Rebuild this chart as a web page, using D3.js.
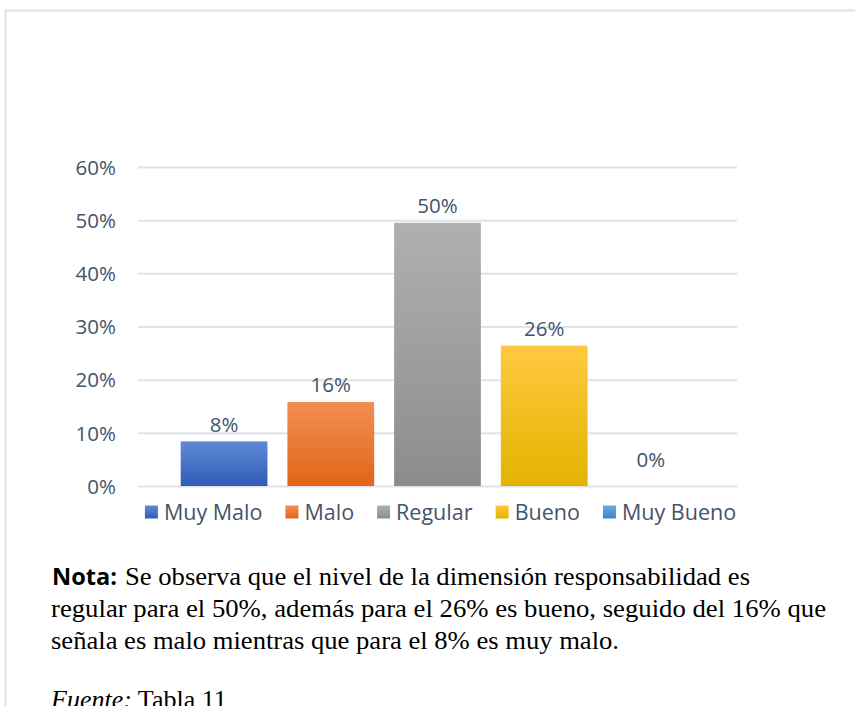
<!DOCTYPE html>
<html><head><meta charset="utf-8">
<script src="https://cdn.jsdelivr.net/npm/d3@7"></script>
<style>html,body{margin:0;padding:0;background:#fff;}svg{display:block;}</style>
</head><body>
<svg id="chart" width="855" height="706"></svg>
<script>
const categories = ["Muy Malo", "Malo", "Regular", "Bueno", "Muy Bueno"];
const values = [0.084, 0.158, 0.495, 0.264, 0];
const yTicks = [0, 0.1, 0.2, 0.3, 0.4, 0.5, 0.6];
const colorsTop = ["#6289d6", "#f28e52", "#b0b0b0", "#ffc93f", "#6aa7df"];
const colorsBottom = ["#2e5db7", "#e26518", "#8c8c8c", "#e3b300", "#3d85cc"];
const noteBold = "Nota:";
const noteLines = [
  "Se observa que el nivel de la dimensión responsabilidad es",
  "regular para el 50%, además para el 26% es bueno, seguido del 16% que",
  "señala es malo mientras que para el 8% es muy malo."
];
const sourceItalic = "Fuente:";
const sourceText = " Tabla 11";

const svg = d3.select("#chart");
const textColor = "#44546a";
const font = "'Open Sans', 'Noto Sans', sans-serif";

// frame
svg.append("path").attr("d", "M5.5,706 V10.5 H855").attr("fill", "none")
  .attr("stroke", "#dde0e7").attr("stroke-width", 2);

const plot = {left: 138, right: 737, top: 167, bottom: 486};
const y = d3.scaleLinear().domain([0, 0.6]).range([plot.bottom, plot.top]);
const x = d3.scaleBand().domain(categories).range([plot.left, plot.right])
  .paddingInner(0.187).paddingOuter(0.40);

// gradients
const defs = svg.append("defs");
categories.forEach((c, i) => {
  const g = defs.append("linearGradient").attr("id", "g" + i)
    .attr("x1", 0).attr("y1", 0).attr("x2", 0).attr("y2", 1);
  g.append("stop").attr("offset", "0%").attr("stop-color", colorsTop[i]);
  g.append("stop").attr("offset", "100%").attr("stop-color", colorsBottom[i]);
});

// grid + axis
const axis = d3.axisLeft(y).tickValues(yTicks).tickFormat(d3.format(".0%"))
  .tickSize(-(plot.right - plot.left)).tickPadding(22);
const ga = svg.append("g").attr("transform", `translate(${plot.left},0)`).call(axis);
ga.select(".domain").remove();
ga.selectAll(".tick line").attr("stroke", "#dfe3e8").attr("stroke-width", 2);
ga.selectAll(".tick text").attr("fill", textColor).style("font-family", font)
  .style("font-size", "20.5px").attr("dy", "0.35em");

// bars
svg.append("g").selectAll("rect").data(values).join("rect")
  .attr("x", (d, i) => x(categories[i]))
  .attr("width", x.bandwidth())
  .attr("y", d => y(d))
  .attr("height", d => y(0) - y(d))
  .attr("fill", (d, i) => `url(#g${i})`);

// labels
svg.append("g").selectAll("text").data(values).join("text")
  .attr("x", (d, i) => x(categories[i]) + x.bandwidth() / 2)
  .attr("y", d => y(d) - (d === 0 ? 26 : 17))
  .attr("dy", "0.35em")
  .attr("text-anchor", "middle")
  .attr("fill", textColor).style("font-family", font).style("font-size", "20.5px")
  .text(d => d3.format(".0%")(d));

// legend
const lg = svg.append("g");
const items = lg.selectAll("g").data(categories).join("g");
items.append("rect").attr("width", 13).attr("height", 13).attr("y", -6.5)
  .attr("fill", (d, i) => `url(#g${i})`);
items.append("text").attr("x", 19).attr("dy", "0.35em")
  .attr("fill", textColor).style("font-family", font).style("font-size", "21.5px")
  .text(d => d);
let cx = 0; const gap = 23; const offs = [];
items.each(function() { offs.push(cx); cx += this.getBBox().width + gap; });
const total = cx - gap;
const startX = (plot.left + plot.right) / 2 - total / 2 + 3;
items.attr("transform", (d, i) => `translate(${startX + offs[i]},512)`);

// note
const serif = "'Liberation Serif', 'Times New Roman', serif";
const lineY = [585, 617, 649];
svg.append("text").attr("x", 52).attr("y", lineY[0])
  .style("font-family", "'Open Sans', sans-serif").style("font-weight", "700")
  .style("font-size", "24px").attr("fill", "#000")
  .attr("textLength", 65).attr("lengthAdjust", "spacingAndGlyphs").text(noteBold);
const lineX = [125, 51, 51];
const lineW = [625, 775, 568];
noteLines.forEach((l, i) => {
  svg.append("text").attr("x", lineX[i]).attr("y", lineY[i])
    .style("font-family", serif).style("font-size", "26px").attr("fill", "#000")
    .attr("textLength", lineW[i]).attr("lengthAdjust", "spacingAndGlyphs").text(l);
});
const t4 = svg.append("text").attr("x", 51).attr("y", 708)
  .style("font-family", serif).style("font-size", "26px").attr("fill", "#000");
t4.append("tspan").style("font-style", "italic").text(sourceItalic);
t4.append("tspan").text(sourceText);
</script>
</body></html>
